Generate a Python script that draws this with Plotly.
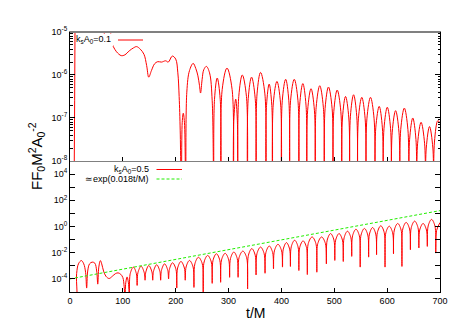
import plotly.graph_objects as go

# t/M ticks shared by both panels
x_ticks = [0, 100, 200, 300, 400, 500, 600, 700]

# upper panel, k_s A_0 = 0.1 : (t/M, log10 F F0 M^2 A0^-2)
top_pts = [
    (0, -9), (7, -9), (8, -8.2), (8.8, -6.6), (9.6, -4.6), (30, -4.4), (55, -4.7), (62, -4.9),
    (65, -5.05), (68, -4.9), (75, -4.8),
    (79, -5.25), (82, -5.34), (88, -5.46), (97, -5.55), (104, -5.53), (112, -5.44),
    (120, -5.37), (126, -5.34), (133, -5.40), (140, -5.52), (145, -5.78), (149, -6.05), (154, -5.9),
    (160, -5.74), (166, -5.69), (173, -5.70), (181, -5.67), (186, -5.70), (193.5, -5.56), (200, -5.63),
    (204, -5.95), (206.5, -6.5), (208.5, -7.3), (210.8, -9), (212.3, -7.1), (214.3, -6.89), (216.5, -7.1),
    (219, -9), (221, -6.4), (226, -5.9), (233, -5.73), (238, -5.85), (242, -6.02), (245, -6.25),
    (247, -6.42), (250, -6.1), (253, -5.88), (258, -5.80), (264, -5.95), (269, -6.6), (272, -9),
    (273.4, -6.57), (278.5, -6.07), (284.2, -6.57), (285.6, -9),
    (287.9, -6.34), (297, -5.84), (306.7, -6.34), (309, -9),
    (309.9, -7.06), (313.5, -6.56), (316.6, -7.06), (317.5, -9),
    (319.3, -6.5), (326, -6.0), (333.8, -6.5), (335.6, -9),
    (337.2, -6.55), (343.5, -6.05), (350.4, -6.55), (352, -9),
    (353.9, -6.44), (360.5, -5.94), (368.7, -6.44), (370.6, -9),
    (371.8, -6.71), (376.8, -6.21), (381.8, -6.71), (383, -9),
    (384.7, -6.65), (391.5, -6.15), (398.3, -6.65), (400, -9),
    (401.6, -6.6), (408, -6.1), (414, -6.6), (415.6, -9),
    (417.3, -6.6), (424.3, -6.1), (431.3, -6.6), (433, -9),
    (434.5, -6.7), (440.5, -6.2), (446.5, -6.7), (448, -9),
    (449.6, -6.82), (456, -6.32), (462.4, -6.82), (464, -9),
    (465.7, -6.75), (472.5, -6.25), (479.3, -6.75), (481, -9),
    (482.6, -6.78), (489, -6.28), (495.9, -6.78), (497.5, -9),
    (499.1, -6.85), (505.5, -6.35), (512.4, -6.85), (514, -9),
    (515.5, -7.0), (521.3, -6.5), (527.5, -7.0), (529, -9),
    (530.5, -6.96), (536.5, -6.46), (542.5, -6.96), (544, -9),
    (545.6, -7.02), (552, -6.52), (558.4, -7.02), (560, -9),
    (561.7, -7.02), (568.5, -6.52), (575.3, -7.02), (577, -9),
    (578.5, -7.23), (585, -6.73), (591, -7.23), (592.5, -9),
    (594, -7.25), (600.3, -6.75), (606.5, -7.25), (608, -9),
    (609.6, -7.33), (616, -6.83), (622.4, -7.33), (624, -9),
    (625.7, -7.27), (632.5, -6.77), (639.3, -7.27), (641, -9),
    (642.5, -7.5), (648.5, -7.0), (654.5, -7.5), (656, -9),
    (657.6, -7.6), (664.2, -7.1), (670.9, -7.6), (672.5, -9),
    (674, -7.7), (680.2, -7.2), (686.5, -7.7), (688, -9),
    (689.5, -7.56), (696, -7.06), (700, -7.12),
]

# lower panel, k_s A_0 = 0.5
bot_pts = [
    (0, -6), (10.5, -6), (12.5, -3.6), (16, -2.85), (21.5, -2.6), (26, -2.85), (29.5, -3.5), (31.5, -4.7),
    (33.5, -3.4), (37, -2.85), (42, -2.72), (47, -2.8), (50.5, -3.4), (52.5, -4.4), (54.5, -3.1),
    (57.5, -2.6), (60, -2.85), (63.5, -3.4), (68, -3.8), (74, -3.97), (80, -3.8), (86, -3.6),
    (91, -3.54), (96, -3.65), (100, -3.9), (102.5, -4.6), (104, -5.5), (105.5, -4.3), (108, -3.85),
    (110.5, -4.3), (112.5, -5.5),
    (113.95, -3.6), (120, -3.1), (125.55, -3.6), (127, -4.5),
    (128.5, -3.53), (134.5, -3.03), (140.5, -3.53), (142, -4.1),
    (143.45, -3.48), (149, -2.98), (155.05, -3.48), (156.5, -4.1),
    (158, -3.42), (164, -2.92), (170, -3.42), (171.5, -4.1),
    (173, -3.35), (179, -2.85), (185, -3.35), (186.5, -4.0),
    (188.05, -3.27), (194, -2.77), (200.45, -3.27), (202, -4.7),
    (203.6, -3.17), (210, -2.67), (216.4, -3.17), (218, -4.1),
    (219.65, -3.09), (226, -2.59), (232.85, -3.09), (234.5, -4.65),
    (236.25, -2.85), (243, -2.35), (250.25, -2.85), (252, -5.5),
    (253.7, -2.71), (260.5, -2.21), (267.3, -2.71), (269, -4.34),
    (270.6, -2.58), (277, -2.08), (283.4, -2.58), (285, -4.26),
    (286.7, -2.55), (293.5, -2.05), (300.3, -2.55), (302, -3.88),
    (303.6, -2.45), (310, -1.95), (316.4, -2.45), (318, -3.88),
    (319.8, -2.38), (327, -1.88), (334.2, -2.38), (336, -4.77),
    (337.6, -2.19), (344, -1.69), (350.4, -2.19), (352, -3.7),
    (353.7, -2.07), (360.5, -1.57), (367.3, -2.07), (369, -3.57),
    (370.6, -1.99), (377, -1.49), (383.4, -1.99), (385, -3.23),
    (386.7, -1.86), (393.5, -1.36), (400.3, -1.86), (402, -3.1),
    (403.5, -1.73), (409.5, -1.23), (415.5, -1.73), (417, -3.05),
    (418.6, -1.55), (425, -1.05), (431.4, -1.55), (433, -3.36),
    (434.6, -1.6), (441, -1.1), (447.4, -1.6), (449, -3.67),
    (450.8, -1.3), (458, -0.8), (465.2, -1.3), (467, -3.49),
    (468.8, -1.3), (476, -0.8), (483.2, -1.3), (485, -2.85),
    (486.6, -1.04), (493, -0.54), (499.4, -1.04), (501, -2.59),
    (502.6, -1.04), (509, -0.54), (515.4, -1.04), (517, -2.67),
    (518.6, -0.86), (525, -0.36), (531.4, -0.86), (533, -2.28),
    (534.6, -0.71), (541, -0.21), (547.4, -0.71), (549, -3.1),
    (550.6, -0.65), (557, -0.15), (563.4, -0.65), (565, -2.34),
    (566.5, -0.58), (572.5, -0.08), (578.5, -0.58), (580, -2.15),
    (581.6, -0.45), (588, 0.05), (594.4, -0.45), (596, -3.1),
    (597.6, -0.48), (604, 0.02), (610.4, -0.48), (612, -2.08),
    (613.6, -0.27), (620, 0.23), (626.4, -0.27), (628, -3.05),
    (629.6, -0.19), (636, 0.31), (642.4, -0.19), (644, -1.77),
    (645.6, -0.09), (652, 0.41), (658.4, -0.09), (660, -1.64),
    (661.6, -0.27), (668, 0.23), (674.4, -0.27), (676, -1.52),
    (677.6, 0.04), (684, 0.54), (690.4, 0.04), (692, -2.03),
    (693.6, -0.3), (700, 0.3),
]

# ~exp(0.018 t/M) guide line
fit_t = [0, 700]
fit_logf = [-4.0, 1.21]

top_ticks = [-8, -7, -6, -5]
bot_ticks = [-4, -3, -2, -1, 0, 1, 2, 3, 4]

font = "Liberation Sans, Arial, sans-serif"
red = "#ff0000"
green = "#22ee00"

# the start of the upper curve (mostly off the top) is drawn as plain segments
n_early = 12
early = top_pts[:n_early]
late = top_pts[n_early - 1:]

fig = go.Figure()
fig.add_trace(go.Scatter(x=[p[0] for p in early], y=[10 ** p[1] for p in early],
                         mode="lines", xaxis="x", yaxis="y",
                         line=dict(color=red, width=1, simplify=False), showlegend=False))
fig.add_trace(go.Scatter(x=[p[0] for p in late], y=[10 ** p[1] for p in late],
                         mode="lines", xaxis="x", yaxis="y",
                         line=dict(color=red, width=1, shape="spline", simplify=False),
                         showlegend=False))
fig.add_trace(go.Scatter(x=[p[0] for p in bot_pts], y=[10 ** p[1] for p in bot_pts],
                         mode="lines", xaxis="x2", yaxis="y2",
                         line=dict(color=red, width=1, shape="spline", simplify=False),
                         showlegend=False))
fig.add_trace(go.Scatter(x=fit_t, y=[10 ** v for v in fit_logf], mode="lines", xaxis="x2", yaxis="y2",
                         line=dict(color=green, width=1, dash="3px,2px"), showlegend=False))


def sup(k):
    return f"10<sup>{k}</sup>"


split = 0.504
common_x = dict(range=[0, 700], tickvals=x_ticks, ticks="inside", ticklen=4, tickcolor="black",
                showgrid=False, zeroline=False, showline=True, automargin=False)
# the page body adds an 8 px offset, so the figure is shifted by that much
fig.update_layout(
    width=447, height=316,
    margin=dict(l=62, r=15, t=24, b=32),
    paper_bgcolor="white", plot_bgcolor="white",
    font=dict(family=font, size=9, color="black"),
    xaxis=dict(common_x, anchor="y", domain=[0, 1], showticklabels=False,
               linecolor="#808080", mirror=True),
    xaxis2=dict(common_x, anchor="y2", domain=[0, 1], linecolor="black"),
    yaxis=dict(type="log", range=[-8, -5], domain=[split, 1], anchor="x", automargin=False,
               tickvals=[10 ** k for k in top_ticks], ticktext=[sup(k) for k in top_ticks],
               ticks="inside", ticklen=5, tickcolor="black",
               minor=dict(ticks="inside", ticklen=2.5, dtick="D1", tickcolor="black", showgrid=False),
               showline=True, linecolor="black", mirror="ticks", showgrid=False, zeroline=False),
    yaxis2=dict(type="log", range=[-5, 5], domain=[0, split], anchor="x2", automargin=False,
                tickvals=[10 ** k for k in bot_ticks],
                ticktext=[sup(k) if k % 2 == 0 else "" for k in bot_ticks],
                ticks="inside", ticklen=5, tickcolor="black",
                showline=True, linecolor="black", mirror="ticks", showgrid=False, zeroline=False),
)


def px_x(p):
    return (p - 70) / 370


def px_y(p):
    return (292 - p) / 260


shapes = [
    # thick grey frame top
    dict(type="line", xref="paper", yref="paper", x0=0, x1=1, y0=1, y1=1,
         line=dict(color="#808080", width=2)),
    # opaque key box in the upper panel
    dict(type="rect", xref="paper", yref="paper", x0=px_x(77), x1=px_x(113),
         y0=px_y(46), y1=px_y(33.5), fillcolor="white", line=dict(width=0), layer="above"),
    # key samples
    dict(type="line", xref="paper", yref="paper", x0=px_x(118), x1=px_x(143),
         y0=px_y(40), y1=px_y(40), line=dict(color=red, width=1)),
    dict(type="line", xref="paper", yref="paper", x0=px_x(156.5), x1=px_x(182),
         y0=px_y(169.5), y1=px_y(169.5), line=dict(color=red, width=1)),
    dict(type="line", xref="paper", yref="paper", x0=px_x(156.5), x1=px_x(182),
         y0=px_y(179), y1=px_y(179), line=dict(color=green, width=1, dash="3px,2px")),
]

annotations = [
    dict(text="k<sub>s</sub>A<sub>0</sub>=0.1", x=px_x(112), y=px_y(39.5)),
    dict(text="k<sub>s</sub>A<sub>0</sub>=0.5", x=px_x(150), y=px_y(169)),
    dict(text="≃exp(0.018t/M)", x=px_x(150), y=px_y(179)),
]
for a in annotations:
    a.update(xref="paper", yref="paper", xanchor="right", yanchor="middle", showarrow=False,
             font=dict(size=9), borderpad=0)

annotations.append(dict(text="t/M", x=0.5, y=px_y(313), xref="paper", yref="paper",
                        xanchor="center", yanchor="middle", showarrow=False, font=dict(size=14)))
annotations.append(dict(text="FF<sub>0</sub>M<sup>2</sup>A<sub>0</sub><sup>-2</sup>",
                        x=px_x(36), y=px_y(156), xref="paper", yref="paper", textangle=-90,
                        xanchor="center", yanchor="middle", showarrow=False, font=dict(size=15)))

fig.update_layout(shapes=shapes, annotations=annotations)

fig.write_html("out.html")
